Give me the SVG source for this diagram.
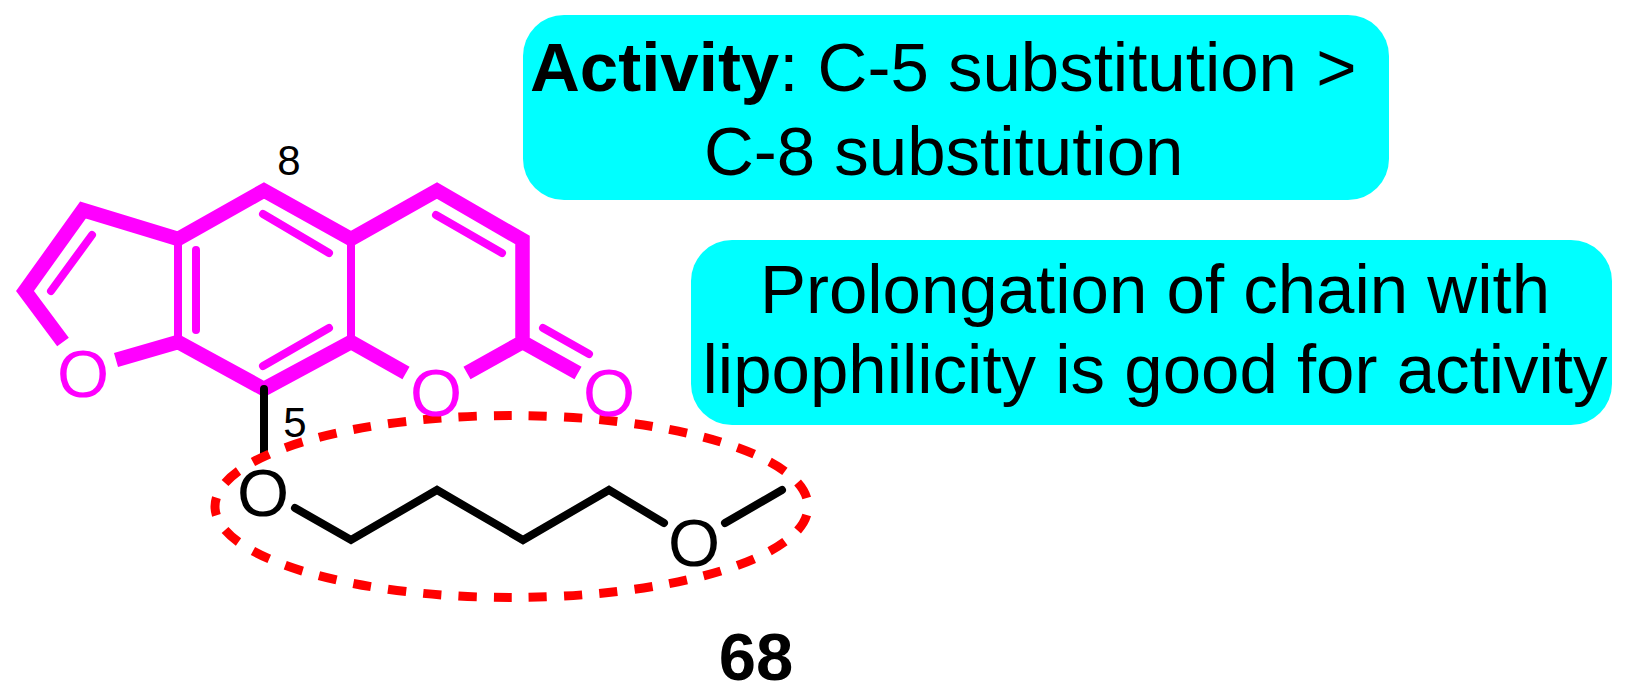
<svg xmlns="http://www.w3.org/2000/svg" width="1630" height="695" viewBox="0 0 1630 695">
<style>
.t{font-family:"Liberation Sans",Arial,sans-serif;fill:#000}
.b{fill:#00ffff}
.m{stroke:#ff00ff;stroke-width:14.5;fill:none;stroke-linecap:butt;stroke-linejoin:miter;stroke-miterlimit:8}
.n{stroke:#ff00ff;stroke-width:8;fill:none;stroke-linecap:round}
.v{stroke:#ff00ff;stroke-width:8;fill:none}
.k{stroke:#000;stroke-width:8;fill:none;stroke-linecap:round;stroke-linejoin:miter}
.a{font-family:"Liberation Sans",Arial,sans-serif;font-size:67px;text-anchor:middle}
</style>
<rect width="1630" height="695" fill="#fff"/>
<g id="connectors">
<path class="v" d="M178 239V342M351 239V342"/>
<path class="m" d="M63 342L25 291L83 210L178 239L264 190.500L351 239L437 190.500L522.500 240V342L467 373M522.500 342L578 373M116 360L178 342L264 389L351 342L406 373"/>
<path class="n" d="M51 291L92 235M196 250V330M263 214L329 253M263 366L329 328M436 215L502 253M543 328L589 354"/>
<path class="k" d="M264 389V455M295 508L351 540L437 490L523 540L609 490L664 523M725 523L782 490"/>
<ellipse cx="511.500" cy="506.500" rx="296.500" ry="91" fill="none" stroke="#ff0000" stroke-width="9" pathLength="1295" stroke-dasharray="18 17" stroke-dashoffset="-8.500"/>
</g>
<g id="ring-oxygens">
<text class="a" x="83" y="397" fill="#ff00ff">O</text>
<text class="a" x="436" y="416" fill="#ff00ff">O</text>
<text class="a" x="609" y="416" fill="#ff00ff">O</text>
</g>
<g id="chain-oxygens">
<text class="a" x="263" y="516">O</text>
<text class="a" x="694" y="566">O</text>
</g>
<g id="locants">
<text class="t" x="289" y="175" font-size="42" text-anchor="middle">8</text>
<text class="t" x="295" y="437" font-size="42" text-anchor="middle">5</text>
</g>
<g id="activity">
<rect class="b" x="523" y="15" width="866" height="185" rx="41"/>
<text class="t" x="530" y="91" font-size="69"><tspan font-weight="bold">Activity</tspan>: C-5 substitution &gt;</text>
<text class="t" x="704" y="174.500" font-size="69">C-8 substitution</text>
</g>
<g id="prolongation">
<rect class="b" x="691" y="240" width="921" height="185" rx="41"/>
<text class="t" x="1155" y="312.500" font-size="69" text-anchor="middle">Prolongation of chain with</text>
<text class="t" x="1155" y="392.500" font-size="69" text-anchor="middle">lipophilicity is good for activity</text>
</g>
<g id="compound">
<text class="t" x="756" y="680" font-size="67" font-weight="bold" text-anchor="middle">68</text>
</g>
</svg>
